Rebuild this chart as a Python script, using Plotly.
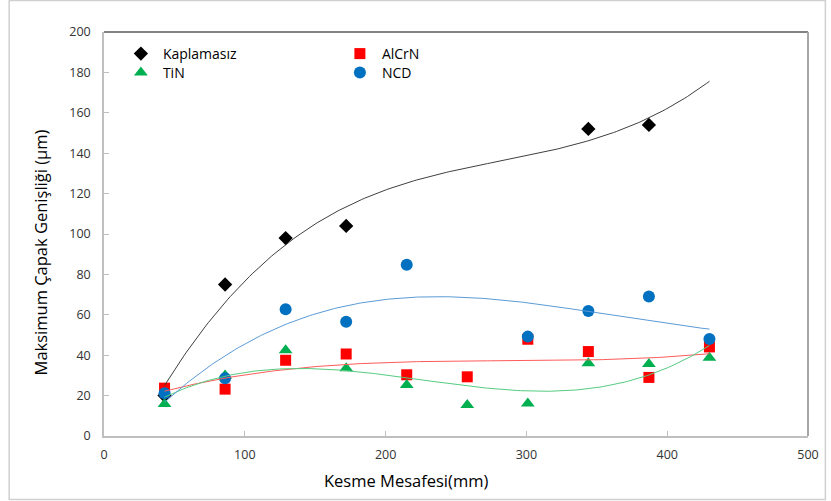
import numpy as np
import plotly.graph_objects as go

# Cutting distance (mm) at which burr width was measured
distance = [43, 86, 129, 172, 215, 258, 301, 344, 387, 430]

# Maximum burr width (µm) per tool coating; None = not measured
kaplamasiz = [20, 75, 98, 104, None, None, None, 152, 154, None]
alcrn = [23.7, 23.2, 37.5, 40.6, 30.3, 29.3, 47.9, 41.8, 29.0, 44.1]
tin = [15.8, 30.0, 42.5, 33.6, 25.2, 15.3, 16.1, 36.0, 35.6, 38.7]
ncd = [21.2, 28.6, 62.7, 56.6, 84.8, None, 49.2, 61.9, 69.1, 48.0]

series = [
    ("Kaplamasız", kaplamasiz, "diamond", 11, "#000000", "#3f3f3f", "legend"),
    ("AlCrN", alcrn, "square", 11, "#ff0000", "#ff5a5a", "legend"),
    ("TiN", tin, "triangle-up", 12, "#00b050", "#55cc80", "legend2"),
    ("NCD", ncd, "circle", 12, "#0070c0", "#5b9bd5", "legend2"),
]

fig = go.Figure()

# scatter markers
for name, vals, sym, size, col, _, lg in series:
    fig.add_trace(go.Scatter(
        x=distance, y=vals, mode="markers", name=name, legend=lg,
        marker=dict(symbol=sym, size=size, color=col, line=dict(width=0)),
    ))

# 3rd-order polynomial trendlines fitted to each series
for name, vals, sym, size, col, lcol, lg in series:
    xs = np.array([d for d, v in zip(distance, vals) if v is not None], float)
    ys = np.array([v for v in vals if v is not None], float)
    coef = np.polyfit(xs, ys, 3)
    xf = np.linspace(distance[0], distance[-1], 200)
    fig.add_trace(go.Scatter(
        x=xf, y=np.polyval(coef, xf), mode="lines", showlegend=False,
        line=dict(color=lcol, width=1), hoverinfo="skip",
    ))

W, H = 831, 501
L, R, T, B = 104, 18, 32, 65
pw, ph = W - L - R, H - T - B

def px_x(p):
    return (p - L) / pw

def px_y(p):
    return (H - B - p) / ph

tick_font = dict(family="Open Sans", size=12.5, color="#333333")
title_font = dict(family="Open Sans", size=16.5, color="#000000")
legend_font = dict(family="Open Sans", size=14, color="#000000")

legend_common = dict(
    orientation="h", xanchor="left", yanchor="top",
    entrywidth=170, entrywidthmode="pixels", bgcolor="rgba(0,0,0,0)",
    font=legend_font, traceorder="normal", itemwidth=34,
)

fig.update_layout(
    width=W, height=H,
    margin=dict(l=L, r=R, t=T, b=B),
    paper_bgcolor="white", plot_bgcolor="white",
    showlegend=True,
    legend=dict(x=px_x(119), y=px_y(38), **legend_common),
    legend2=dict(x=px_x(119), y=px_y(57), **legend_common),
    xaxis=dict(
        range=[0, 500], dtick=100, tick0=0, showgrid=False, zeroline=False,
        showline=True, linecolor="#bfbfbf", linewidth=1.5,
        ticks="inside", ticklen=5, tickcolor="#bfbfbf", tickfont=tick_font,
        ticklabelstandoff=6,
    ),
    yaxis=dict(
        range=[0, 200], dtick=20, tick0=0, showgrid=False, zeroline=False,
        showline=True, linecolor="#bfbfbf", linewidth=1.5,
        ticks="inside", ticklen=5, tickcolor="#bfbfbf", tickfont=tick_font,
        ticklabelstandoff=9,
    ),
    annotations=[
        dict(text="Kesme Mesafesi(mm)", xref="paper", yref="paper",
             x=px_x(408), y=px_y(480), xanchor="center", yanchor="middle",
             showarrow=False, font=title_font),
        dict(text="Maksimum Çapak Genişliği (µm)", xref="paper", yref="paper",
             x=px_x(40), y=px_y(252), xanchor="center", yanchor="middle",
             textangle=-90, showarrow=False, font=title_font),
    ],
    shapes=[
        # top and right frame of the plot area
        dict(type="line", xref="paper", yref="paper", x0=0, x1=1, y0=1, y1=1,
             line=dict(color="#595959", width=1.5)),
        dict(type="line", xref="paper", yref="paper", x0=1, x1=1, y0=0, y1=1,
             line=dict(color="#a6a6a6", width=2)),
        # outer chart border
        dict(type="rect", xref="paper", yref="paper",
             x0=px_x(8.5), x1=px_x(830.5), y0=px_y(499.5), y1=px_y(0.5),
             line=dict(color="#d0d0d0", width=1.5), layer="below"),
    ],
)

fig.write_html("out.html")
